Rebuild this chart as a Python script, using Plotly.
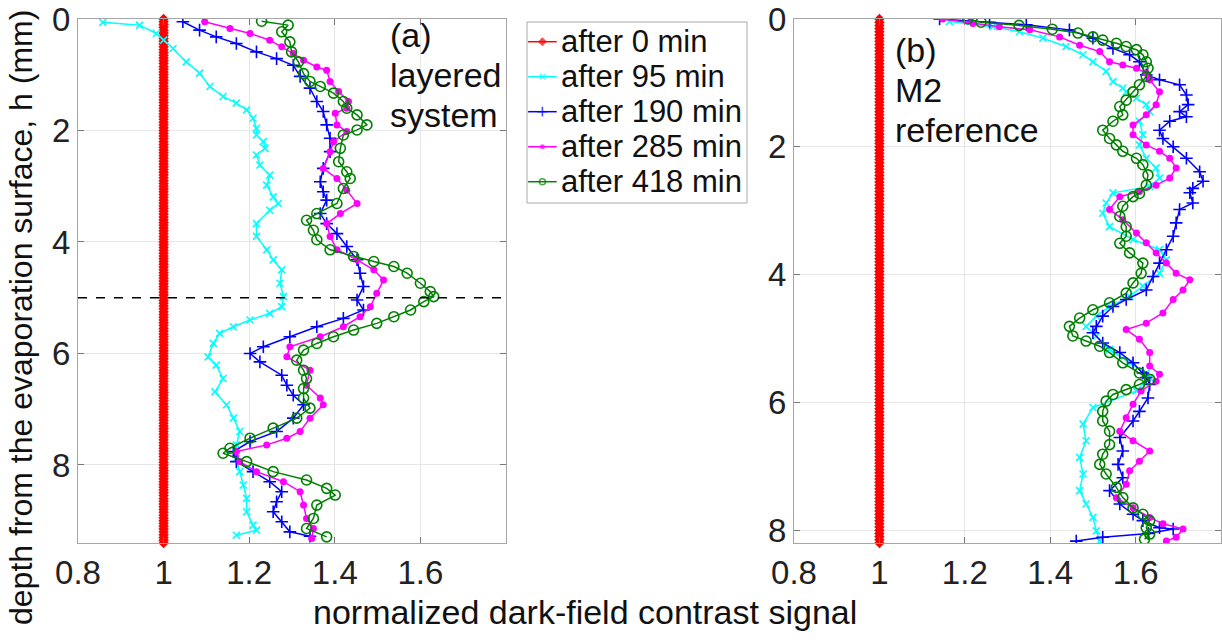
import numpy as np
import plotly.graph_objects as go

# ---------------- data ----------------
# Panel (a): layered system
red_a_depth = np.round(np.arange(0.0, 9.41, 0.05), 2)
red_a = [1.0] * len(red_a_depth)

cyan_a_depth = [0.06,0.11,0.26,0.38,0.53,0.77,0.97,1.21,1.39,1.51,1.63,1.78,1.96,2.08,2.2,2.32,2.44,2.62,2.8,2.98,
                3.19,3.31,3.43,3.67,3.9,4.14,4.32,4.5,4.74,4.98,5.16,5.28,5.4,5.52,5.64,5.82,6.06,6.21,6.45,6.69,
                6.92,7.16,7.4,7.64,7.88,8.12,8.36,8.6,8.84,9.08,9.17,9.26]
cyan_a = [0.858,0.944,0.983,1.0,1.022,1.053,1.084,1.108,1.139,1.17,1.194,1.209,1.217,1.217,1.233,1.237,1.217,1.225,1.248,1.241,
          1.256,1.268,1.248,1.217,1.217,1.241,1.256,1.276,1.272,1.28,1.276,1.248,1.202,1.163,1.131,1.116,1.104,1.123,1.139,1.12,
          1.147,1.163,1.178,1.17,1.17,1.178,1.186,1.194,1.194,1.209,1.217,1.17]

blue_a_depth = [0.05,0.2,0.32,0.44,0.59,0.71,0.83,1.03,1.24,1.48,1.66,1.9,2.14,2.38,2.68,2.92,3.1,3.25,3.49,3.67,
                3.85,4.08,4.32,4.56,4.8,5.04,5.22,5.37,5.52,5.7,5.88,6.0,6.15,6.39,6.57,6.75,6.92,7.16,7.4,7.58,
                7.76,7.94,8.12,8.3,8.48,8.66,8.84,9.02,9.2,9.28]
blue_a = [1.045,1.084,1.123,1.17,1.217,1.264,1.303,1.319,1.342,1.358,1.373,1.381,1.389,1.389,1.373,1.366,1.373,1.381,1.366,1.381,
          1.405,1.428,1.452,1.459,1.467,1.452,1.467,1.42,1.358,1.295,1.233,1.202,1.225,1.276,1.288,1.303,1.327,1.303,1.264,1.202,
          1.163,1.17,1.209,1.248,1.276,1.264,1.256,1.276,1.295,1.342]

magenta_a_depth = [0.05,0.17,0.26,0.38,0.5,0.62,0.74,0.86,0.92,1.12,1.3,1.48,1.6,1.69,1.9,2.02,2.2,2.38,2.68,2.86,
                   3.07,3.31,3.49,3.67,3.9,4.14,4.32,4.5,4.68,4.92,5.16,5.34,5.52,5.7,5.88,6.06,6.3,6.57,6.8,6.92,
                   7.16,7.4,7.52,7.64,7.76,7.94,8.12,8.3,8.48,8.72,8.96,9.14,9.32]
magenta_a = [1.096,1.155,1.202,1.248,1.276,1.303,1.327,1.358,1.381,1.389,1.409,1.432,1.428,1.401,1.405,1.428,1.397,1.389,1.373,1.405,
             1.428,1.452,1.413,1.381,1.389,1.405,1.452,1.491,1.514,1.498,1.483,1.459,1.42,1.366,1.295,1.288,1.342,1.334,1.366,1.373,
             1.342,1.319,1.288,1.241,1.17,1.178,1.217,1.28,1.319,1.327,1.334,1.35,1.346]

green_a_depth = [0.04,0.11,0.23,0.41,0.59,0.77,0.98,1.12,1.21,1.33,1.48,1.6,1.72,1.9,1.99,2.08,2.32,2.56,2.74,2.86,
                 3.04,3.31,3.49,3.61,3.79,3.96,4.14,4.26,4.35,4.44,4.56,4.74,4.89,4.98,5.07,5.22,5.34,5.46,5.58,5.7,
                 5.82,5.94,6.12,6.3,6.45,6.63,6.8,6.98,7.16,7.34,7.52,7.7,7.79,7.94,8.12,8.27,8.42,8.54,8.72,8.96,
                 9.14,9.29]
green_a = [1.229,1.291,1.276,1.295,1.299,1.315,1.327,1.342,1.366,1.397,1.42,1.428,1.452,1.475,1.452,1.42,1.413,1.409,1.428,1.436,
           1.42,1.405,1.358,1.334,1.35,1.358,1.389,1.444,1.491,1.538,1.569,1.6,1.623,1.631,1.608,1.577,1.538,1.498,1.444,1.397,
           1.358,1.327,1.311,1.327,1.334,1.327,1.327,1.342,1.311,1.256,1.202,1.155,1.139,1.194,1.256,1.334,1.381,1.401,1.358,1.35,
           1.334,1.381]

# Panel (b): M2 reference
red_b_depth = np.round(np.arange(0.0, 8.21, 0.05), 2)
red_b = [1.0] * len(red_b_depth)

cyan_b_depth = [0.04,0.12,0.2,0.3,0.43,0.56,0.67,0.82,0.98,1.08,1.14,1.24,1.34,1.45,1.6,1.81,1.97,2.18,2.33,2.49,
                2.62,2.72,2.88,3.04,3.25,3.45,3.61,3.77,3.98,4.18,4.34,4.5,4.65,4.81,4.96,5.17,5.38,5.54,5.61,5.82,
                6.08,6.34,6.6,6.86,7.12,7.38,7.59,7.8,8.01,8.17]
cyan_b = [1.164,1.266,1.328,1.383,1.437,1.477,1.5,1.531,1.547,1.57,1.578,1.602,1.625,1.633,1.609,1.617,1.609,1.625,1.648,1.656,
          1.633,1.547,1.531,1.523,1.539,1.594,1.656,1.672,1.656,1.617,1.586,1.539,1.508,1.484,1.508,1.539,1.586,1.625,1.633,1.602,
          1.5,1.477,1.484,1.469,1.477,1.469,1.484,1.5,1.508,1.516]

blue_b_depth = [0.0,0.05,0.09,0.17,0.3,0.46,0.56,0.67,0.875,0.95,1.03,1.19,1.34,1.45,1.53,1.6,1.74,1.87,2.0,2.18,
                2.39,2.54,2.65,2.72,2.88,2.98,3.19,3.4,3.61,3.82,4.03,4.24,4.39,4.5,4.65,4.81,4.91,5.07,5.22,5.38,
                5.54,5.61,5.72,5.93,6.14,6.29,6.55,6.76,6.97,7.18,7.38,7.59,7.75,7.85,7.96,7.98,8.05,8.11,8.17]
blue_b = [1.141,1.258,1.344,1.445,1.5,1.547,1.586,1.609,1.625,1.656,1.703,1.719,1.723,1.703,1.719,1.68,1.656,1.664,1.688,1.719,
          1.75,1.758,1.734,1.727,1.734,1.703,1.695,1.688,1.672,1.656,1.641,1.625,1.578,1.547,1.523,1.508,1.5,1.523,1.563,1.594,
          1.617,1.625,1.633,1.629,1.609,1.594,1.563,1.57,1.559,1.57,1.539,1.563,1.594,1.617,1.656,1.688,1.63,1.523,1.461]

magenta_b_depth = [0.0,0.07,0.12,0.17,0.28,0.41,0.51,0.67,0.72,0.77,0.85,0.95,1.14,1.34,1.5,1.66,1.81,1.97,2.07,2.18,
                   2.33,2.49,2.6,2.7,2.78,2.98,3.14,3.35,3.5,3.66,3.82,3.98,4.08,4.24,4.39,4.6,4.76,4.86,5.01,5.22,
                   5.43,5.56,5.67,5.82,6.03,6.24,6.45,6.6,6.76,6.92,7.07,7.28,7.49,7.65,7.8,7.9,7.98,8.11,8.17]
magenta_b = [1.148,1.219,1.281,1.352,1.422,1.469,1.516,1.539,1.57,1.602,1.625,1.633,1.656,1.648,1.625,1.594,1.594,1.625,1.656,1.68,
             1.695,1.68,1.648,1.609,1.563,1.539,1.57,1.602,1.625,1.648,1.672,1.695,1.727,1.711,1.688,1.664,1.625,1.578,1.609,1.633,
             1.633,1.656,1.648,1.613,1.594,1.578,1.563,1.594,1.633,1.609,1.586,1.578,1.555,1.594,1.633,1.664,1.711,1.695,1.672]

green_b_depth = [0.0,0.05,0.1,0.16,0.22,0.28,0.33,0.38,0.43,0.48,0.56,0.67,0.77,0.9,1.03,1.14,1.27,1.37,1.5,1.6,
                 1.74,1.87,1.97,2.07,2.18,2.28,2.44,2.6,2.73,2.78,2.93,3.09,3.25,3.4,3.51,3.66,3.82,3.98,4.13,4.29,
                 4.44,4.55,4.68,4.81,4.96,5.04,5.12,5.22,5.38,5.54,5.64,5.72,5.8,5.875,5.98,6.14,6.29,6.45,6.66,6.81,
                 6.97,7.12,7.33,7.49,7.65,7.75,7.85,7.96,8.06,8.14]
green_b = [1.207,1.238,1.327,1.405,1.465,1.5,1.523,1.555,1.578,1.602,1.617,1.625,1.629,1.625,1.609,1.594,1.578,1.563,1.57,1.547,
           1.523,1.539,1.555,1.57,1.602,1.617,1.629,1.625,1.609,1.594,1.57,1.563,1.578,1.578,1.563,1.586,1.617,1.613,1.594,1.578,
           1.539,1.5,1.469,1.445,1.453,1.484,1.516,1.539,1.57,1.609,1.633,1.609,1.578,1.547,1.531,1.523,1.523,1.539,1.539,1.523,
           1.516,1.531,1.555,1.57,1.594,1.617,1.633,1.625,1.633,1.621]

series_names = ["after 0 min", "after 95 min", "after 190 min", "after 285 min", "after 418 min"]
x_tickvals = [0.8, 1.0, 1.2, 1.4, 1.6]
x_ticktext = ["0.8", "1", "1.2", "1.4", "1.6"]
y_tickvals = [0, 2, 4, 6, 8]
layer_boundary = 5.0

# ---------------- styles ----------------
W, H = 1222, 642
FONT = "Liberation Sans, Arial, Helvetica, sans-serif"
styles = [
    dict(color="#ff0000", symbol="diamond", size=8, lw=2.0, mlw=0, lsize=7),
    dict(color="#00ffff", symbol="x-thin", size=7, lw=1.5, mlw=1.6, lsize=5),
    dict(color="#0000ff", symbol="cross-thin", size=9, lw=1.5, mlw=1.6, lsize=7),
    dict(color="#ff00ff", symbol="circle", size=7, lw=1.5, mlw=0, lsize=5),
    dict(color="#008000", symbol="circle-open", size=10, lw=1.5, mlw=1.6, lsize=6),
]

def px_x(p):
    return p / W

def px_y(p):
    return 1 - p / H

fig = go.Figure()

panel_a = [(red_a, red_a_depth), (cyan_a, cyan_a_depth), (blue_a, blue_a_depth),
           (magenta_a, magenta_a_depth), (green_a, green_a_depth)]
panel_b = [(red_b, red_b_depth), (cyan_b, cyan_b_depth), (blue_b, blue_b_depth),
           (magenta_b, magenta_b_depth), (green_b, green_b_depth)]

for axes, panel in [(("x", "y"), panel_a), (("x2", "y2"), panel_b)]:
    for i, (vals, depths) in enumerate(panel):
        st = styles[i]
        fig.add_trace(go.Scatter(
            x=list(vals), y=list(depths), mode="lines+markers",
            xaxis=axes[0], yaxis=axes[1], showlegend=False,
            name=series_names[i],
            line=dict(color=st["color"], width=st["lw"]),
            marker=dict(symbol=st["symbol"], size=st["size"], color=st["color"],
                        line=dict(color=st["color"], width=st["mlw"])),
            cliponaxis=(i != 0),
        ))

# ---------------- manual legend (MATLAB-like compact box) ----------------
leg_x0, leg_x1, leg_y0, leg_y1 = 527, 747, 22, 203
row_px = [41.7, 76.7, 111.7, 146.7, 181.7]
for i, name in enumerate(series_names):
    st = styles[i]
    fy = 1 - (row_px[i] - leg_y0) / (leg_y1 - leg_y0)
    fig.add_trace(go.Scatter(
        x=[0.005, 0.07, 0.135], y=[fy, fy, fy], mode="lines+markers",
        xaxis="x3", yaxis="y3", showlegend=False, hoverinfo="skip",
        line=dict(color=st["color"], width=1.5),
        marker=dict(symbol=st["symbol"], size=[0, st["lsize"], 0], color=st["color"],
                    line=dict(color=st["color"], width=st["mlw"])),
    ))
    fig.add_annotation(text=name, xref="paper", yref="paper", x=px_x(559), y=px_y(row_px[i]),
                       xanchor="left", yanchor="middle", showarrow=False,
                       font=dict(family=FONT, size=31, color="#111111"))

fig.add_shape(type="rect", xref="paper", yref="paper", x0=px_x(leg_x0), x1=px_x(leg_x1),
              y0=px_y(leg_y1), y1=px_y(leg_y0), line=dict(color="#aaaaaa", width=1),
              fillcolor="white", layer="below")

# dashed layer boundary in panel (a)
fig.add_shape(type="line", xref="x domain", yref="y", x0=0, x1=1, y0=layer_boundary, y1=layer_boundary,
              line=dict(color="black", width=1.5, dash="dash"))

# panel texts
for txt, yc in [("(a)", 35), ("layered", 75), ("system", 115)]:
    fig.add_annotation(text=txt, xref="paper", yref="paper", x=px_x(388), y=px_y(yc),
                       xanchor="left", yanchor="middle", showarrow=False,
                       font=dict(family=FONT, size=34, color="#111111"))
for txt, yc in [("(b)", 50), ("M2", 90), ("reference", 130)]:
    fig.add_annotation(text=txt, xref="paper", yref="paper", x=px_x(893), y=px_y(yc),
                       xanchor="left", yanchor="middle", showarrow=False,
                       font=dict(family=FONT, size=34, color="#111111"))

# axis titles
fig.add_annotation(text="normalized dark-field contrast signal", xref="paper", yref="paper",
                   x=px_x(585), y=px_y(612), xanchor="center", yanchor="middle", showarrow=False,
                   font=dict(family=FONT, size=34, color="#111111"))
fig.add_annotation(text="depth from the evaporation surface, h (mm)", xref="paper", yref="paper",
                   x=px_x(21), y=px_y(318), xanchor="center", yanchor="middle", showarrow=False,
                   textangle=-90, font=dict(family=FONT, size=32, color="#111111"))

axis_common = dict(showgrid=True, gridcolor="#e6e6e6", gridwidth=1, zeroline=False,
                   showline=True, linecolor="#a6a6a6", linewidth=1, mirror="ticks",
                   ticks="inside", ticklen=6, tickcolor="#777777", automargin=False,
                   tickfont=dict(family=FONT, size=33, color="#222222"))

fig.update_layout(
    width=W, height=H, autosize=False,
    margin=dict(l=0, r=0, t=0, b=0, pad=0),
    paper_bgcolor="white", plot_bgcolor="white",
    showlegend=False,
    xaxis=dict(domain=[px_x(78), px_x(506)], range=[0.8, 1.8], tickvals=x_tickvals, ticktext=x_ticktext,
               anchor="y", **axis_common),
    yaxis=dict(domain=[px_y(543), px_y(19)], range=[9.4, 0], tickvals=y_tickvals,
               anchor="x", **axis_common),
    xaxis2=dict(domain=[px_x(794), px_x(1221)], range=[0.8, 1.8], tickvals=x_tickvals, ticktext=x_ticktext,
                anchor="y2", **axis_common),
    yaxis2=dict(domain=[px_y(543), px_y(19)], range=[8.2, 0], tickvals=y_tickvals,
                anchor="x2", **axis_common),
    xaxis3=dict(domain=[px_x(leg_x0), px_x(leg_x1)], range=[0, 1], visible=False, anchor="y3",
                fixedrange=True, automargin=False),
    yaxis3=dict(domain=[px_y(leg_y1), px_y(leg_y0)], range=[0, 1], visible=False, anchor="x3",
                fixedrange=True, automargin=False),
)

fig.write_html("out.html")
